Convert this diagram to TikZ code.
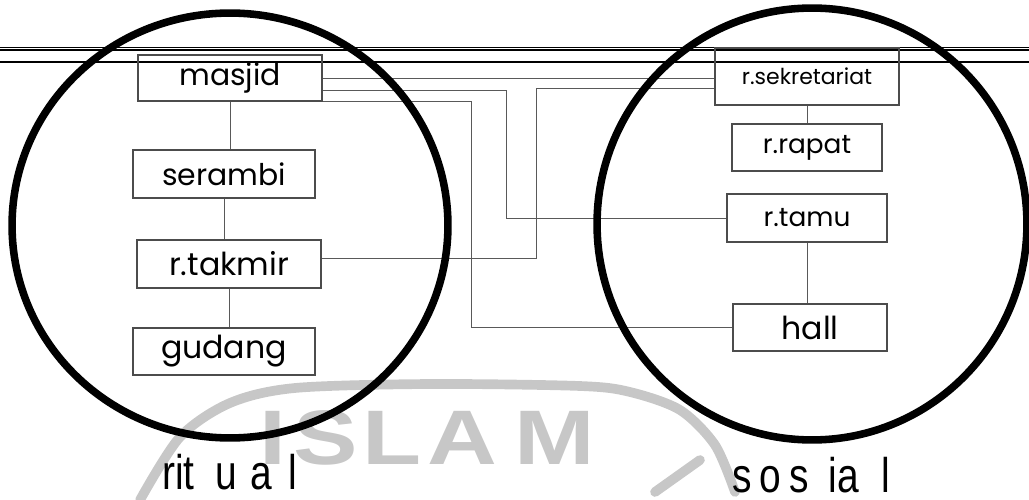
\documentclass[tikz,border=0pt]{standalone}
\usepackage{fontspec}
\setmainfont{Poppins}
\newfontfamily\zonefont{Liberation Sans}[FakeStretch=0.8]
\newfontfamily\markfont{Liberation Sans}[FakeStretch=1.25]
\usetikzlibrary{calc}

\tikzset{
  room/.style={draw=black!70, line width=0.6pt, inner sep=0pt},
  link/.style={draw=black!65, line width=0.5pt},
  rule/.style={draw=black, line width=0.7pt},
  zone/.style={draw=black, line width=4.3pt},
  zonelabel/.style={inner sep=0pt, anchor=base west, font=\zonefont\fontsize{27.7}{28}\selectfont},
  markline/.style={draw=black!22, line width=5.5pt, line cap=round},
  markletter/.style={inner sep=0pt, anchor=base, text=black!22, font=\markfont\bfseries\fontsize{44}{44}\selectfont}
}

\begin{document}
\begin{tikzpicture}[x=0.02cm, y=-0.02cm]
\useasboundingbox (0,0) rectangle (1029,500);

% faint watermark
\draw[markline] plot[smooth] coordinates {(140,500) (180,437) (230,403) (295,388) (430,384) (580,386) (630,392) (680,410) (715,445) (735,492)};
\draw[markline] (655,492) -- (700,460);
\foreach \ch/\xc in {I/273, S/326, L/392, A/462, M/555}
  \node[markletter] at (\xc,464) {\ch};

% rules at the top
\draw[rule] (0,47.5) -- (1029,47.5);
\draw[rule] (0,50) -- (1029,50);
\draw[rule] (0,62) -- (1029,62);

% ritual rooms
\node[room, minimum width=3.68cm, minimum height=0.92cm, font=\fontsize{17}{17}\selectfont] (masjid) at (230,78) {masjid};
\node[room, minimum width=3.64cm, minimum height=0.96cm, font=\fontsize{17}{17}\selectfont] (serambi) at (224,174) {serambi};
\node[room, minimum width=3.68cm, minimum height=0.96cm, font=\fontsize{18}{18}\selectfont] (takmir) at (229,264) {r.takmir};
\node[room, minimum width=3.64cm, minimum height=0.94cm, font=\fontsize{18}{18}\selectfont] (gudang) at (224,351.5) {gudang};

% sosial rooms
\node[room, minimum width=3.68cm, minimum height=1.14cm, font=\fontsize{12.5}{12.5}\selectfont] (sekretariat) at (807,76.5) {r.sekretariat};
\node[room, minimum width=3.0cm, minimum height=0.94cm, font=\fontsize{15}{15}\selectfont] (rapat) at (807,147.5) {r.rapat};
\node[room, minimum width=3.2cm, minimum height=0.96cm, font=\fontsize{15}{15}\selectfont] (tamu) at (807,218) {r.tamu};
\node[room, minimum width=3.08cm, minimum height=0.94cm, font=\fontsize{18}{18}\selectfont] (hall) at (810,327.5) {hall};

% bends of the long links
\coordinate (bendTamu) at (506,218);
\coordinate (bendHall) at (471,327.5);
\coordinate (bendSekr) at (536,88);

% links inside the zones
\draw[link] (masjid.south) -- (masjid.south |- serambi.north);
\draw[link] (serambi.south) -- (serambi.south |- takmir.north);
\draw[link] (takmir.south) -- (takmir.south |- gudang.north);
\draw[link] (sekretariat.south) -- (sekretariat.south |- rapat.north);
\draw[link] (tamu.south) -- (tamu.south |- hall.north);

% links across the zones
\draw[link] (masjid.east) -- (masjid.east -| sekretariat.west);
\draw[link] ($(masjid.east)+(0,12)$) -| (bendTamu) -- (tamu.west);
\draw[link] (masjid.south east) -| (bendHall) -- (hall.west);
\draw[link] ($(takmir.east)+(0,-6)$) -| (bendSekr) -- (bendSekr -| sekretariat.west);

% the two zones
\draw[zone] (230,225.5) ellipse [x radius=4.36cm, y radius=4.25cm];
\draw[zone] (812,224) ellipse [x radius=4.3cm, y radius=4.32cm];

\node[zonelabel] (ritual) at (162,489) {rit\hspace{12pt}u\hspace{7.5pt}a\hspace{9pt}l};
\node[zonelabel] (sosial) at (732,492) {s\hspace{4.5pt}o\hspace{4.5pt}s\hspace{11.5pt}ia\hspace{12.5pt}l};

\end{tikzpicture}
\end{document}
